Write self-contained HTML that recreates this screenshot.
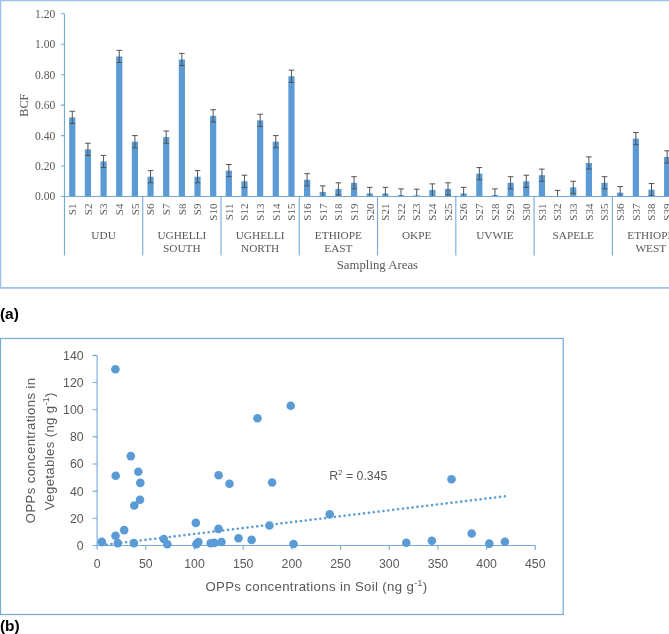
<!DOCTYPE html>
<html><head><meta charset="utf-8"><style>
html,body{margin:0;padding:0;background:#fff;width:669px;height:634px;overflow:hidden;}
svg{display:block;filter:blur(0.3px);}

</style></head><body>
<svg width="669" height="634" viewBox="0 0 669 634">
<rect x="0" y="0" width="669" height="634" fill="#fff"/>
<path d="M0.6,288 V0.6 H700" fill="none" stroke="#9FC3E8" stroke-width="1.4"/>
<path d="M0,287.9 H669" fill="none" stroke="#9FC3E8" stroke-width="1.6"/>
<rect x="69.18" y="117.33" width="6.2" height="79.17" fill="#5B9BD5"/>
<rect x="84.83" y="149.30" width="6.2" height="47.20" fill="#5B9BD5"/>
<rect x="100.49" y="161.48" width="6.2" height="35.02" fill="#5B9BD5"/>
<rect x="116.14" y="56.43" width="6.2" height="140.07" fill="#5B9BD5"/>
<rect x="131.80" y="141.69" width="6.2" height="54.81" fill="#5B9BD5"/>
<rect x="147.45" y="176.71" width="6.2" height="19.79" fill="#5B9BD5"/>
<rect x="163.11" y="137.12" width="6.2" height="59.38" fill="#5B9BD5"/>
<rect x="178.76" y="59.47" width="6.2" height="137.03" fill="#5B9BD5"/>
<rect x="194.42" y="176.71" width="6.2" height="19.79" fill="#5B9BD5"/>
<rect x="210.07" y="115.81" width="6.2" height="80.69" fill="#5B9BD5"/>
<rect x="225.73" y="170.62" width="6.2" height="25.88" fill="#5B9BD5"/>
<rect x="241.38" y="181.28" width="6.2" height="15.22" fill="#5B9BD5"/>
<rect x="257.04" y="120.38" width="6.2" height="76.12" fill="#5B9BD5"/>
<rect x="272.69" y="141.69" width="6.2" height="54.81" fill="#5B9BD5"/>
<rect x="288.35" y="76.22" width="6.2" height="120.28" fill="#5B9BD5"/>
<rect x="304.00" y="179.75" width="6.2" height="16.75" fill="#5B9BD5"/>
<rect x="319.66" y="191.93" width="6.2" height="4.57" fill="#5B9BD5"/>
<rect x="335.31" y="188.89" width="6.2" height="7.61" fill="#5B9BD5"/>
<rect x="350.97" y="182.80" width="6.2" height="13.70" fill="#5B9BD5"/>
<rect x="366.62" y="193.46" width="6.2" height="3.04" fill="#5B9BD5"/>
<rect x="382.28" y="193.46" width="6.2" height="3.04" fill="#5B9BD5"/>
<rect x="397.93" y="194.98" width="6.2" height="1.52" fill="#5B9BD5"/>
<rect x="413.59" y="195.28" width="6.2" height="1.22" fill="#5B9BD5"/>
<rect x="429.24" y="189.95" width="6.2" height="6.55" fill="#5B9BD5"/>
<rect x="444.90" y="188.89" width="6.2" height="7.61" fill="#5B9BD5"/>
<rect x="460.55" y="193.46" width="6.2" height="3.04" fill="#5B9BD5"/>
<rect x="476.21" y="173.66" width="6.2" height="22.84" fill="#5B9BD5"/>
<rect x="491.86" y="194.98" width="6.2" height="1.52" fill="#5B9BD5"/>
<rect x="507.52" y="182.80" width="6.2" height="13.70" fill="#5B9BD5"/>
<rect x="523.17" y="181.28" width="6.2" height="15.22" fill="#5B9BD5"/>
<rect x="538.83" y="175.19" width="6.2" height="21.31" fill="#5B9BD5"/>
<rect x="554.48" y="196.50" width="6.2" height="0.00" fill="#5B9BD5"/>
<rect x="570.14" y="187.37" width="6.2" height="9.13" fill="#5B9BD5"/>
<rect x="585.79" y="163.00" width="6.2" height="33.50" fill="#5B9BD5"/>
<rect x="601.45" y="182.80" width="6.2" height="13.70" fill="#5B9BD5"/>
<rect x="617.10" y="192.69" width="6.2" height="3.81" fill="#5B9BD5"/>
<rect x="632.76" y="138.64" width="6.2" height="57.86" fill="#5B9BD5"/>
<rect x="648.41" y="189.65" width="6.2" height="6.85" fill="#5B9BD5"/>
<rect x="664.07" y="156.91" width="6.2" height="39.59" fill="#5B9BD5"/>
<rect x="679.72" y="166.05" width="6.2" height="30.45" fill="#5B9BD5"/>
<path d="M72.28,111.24 V123.42 M69.48,111.24 H75.08 M69.48,123.42 H75.08" stroke="#525252" stroke-width="1" fill="none"/>
<path d="M87.93,143.21 V155.39 M85.13,143.21 H90.73 M85.13,155.39 H90.73" stroke="#525252" stroke-width="1" fill="none"/>
<path d="M103.59,155.39 V167.57 M100.79,155.39 H106.39 M100.79,167.57 H106.39" stroke="#525252" stroke-width="1" fill="none"/>
<path d="M119.24,50.34 V62.52 M116.44,50.34 H122.04 M116.44,62.52 H122.04" stroke="#525252" stroke-width="1" fill="none"/>
<path d="M134.90,135.60 V147.78 M132.10,135.60 H137.70 M132.10,147.78 H137.70" stroke="#525252" stroke-width="1" fill="none"/>
<path d="M150.55,170.62 V182.80 M147.75,170.62 H153.35 M147.75,182.80 H153.35" stroke="#525252" stroke-width="1" fill="none"/>
<path d="M166.21,131.03 V143.21 M163.41,131.03 H169.01 M163.41,143.21 H169.01" stroke="#525252" stroke-width="1" fill="none"/>
<path d="M181.86,53.38 V65.56 M179.06,53.38 H184.66 M179.06,65.56 H184.66" stroke="#525252" stroke-width="1" fill="none"/>
<path d="M197.52,170.62 V182.80 M194.72,170.62 H200.32 M194.72,182.80 H200.32" stroke="#525252" stroke-width="1" fill="none"/>
<path d="M213.17,109.72 V121.90 M210.37,109.72 H215.97 M210.37,121.90 H215.97" stroke="#525252" stroke-width="1" fill="none"/>
<path d="M228.83,164.53 V176.71 M226.03,164.53 H231.63 M226.03,176.71 H231.63" stroke="#525252" stroke-width="1" fill="none"/>
<path d="M244.48,175.19 V187.37 M241.68,175.19 H247.28 M241.68,187.37 H247.28" stroke="#525252" stroke-width="1" fill="none"/>
<path d="M260.14,114.28 V126.47 M257.34,114.28 H262.94 M257.34,126.47 H262.94" stroke="#525252" stroke-width="1" fill="none"/>
<path d="M275.79,135.60 V147.78 M272.99,135.60 H278.59 M272.99,147.78 H278.59" stroke="#525252" stroke-width="1" fill="none"/>
<path d="M291.45,70.13 V82.31 M288.65,70.13 H294.25 M288.65,82.31 H294.25" stroke="#525252" stroke-width="1" fill="none"/>
<path d="M307.10,173.66 V185.84 M304.30,173.66 H309.90 M304.30,185.84 H309.90" stroke="#525252" stroke-width="1" fill="none"/>
<path d="M322.76,185.84 V196.50 M319.96,185.84 H325.56" stroke="#525252" stroke-width="1" fill="none"/>
<path d="M338.41,182.80 V194.98 M335.61,182.80 H341.21 M335.61,194.98 H341.21" stroke="#525252" stroke-width="1" fill="none"/>
<path d="M354.07,176.71 V188.89 M351.27,176.71 H356.87 M351.27,188.89 H356.87" stroke="#525252" stroke-width="1" fill="none"/>
<path d="M369.72,187.37 V196.50 M366.92,187.37 H372.52" stroke="#525252" stroke-width="1" fill="none"/>
<path d="M385.38,187.37 V196.50 M382.58,187.37 H388.18" stroke="#525252" stroke-width="1" fill="none"/>
<path d="M401.03,188.89 V196.50 M398.23,188.89 H403.83" stroke="#525252" stroke-width="1" fill="none"/>
<path d="M416.69,189.19 V196.50 M413.89,189.19 H419.49" stroke="#525252" stroke-width="1" fill="none"/>
<path d="M432.34,183.86 V196.04 M429.54,183.86 H435.14" stroke="#525252" stroke-width="1" fill="none"/>
<path d="M448.00,182.80 V194.98 M445.20,182.80 H450.80 M445.20,194.98 H450.80" stroke="#525252" stroke-width="1" fill="none"/>
<path d="M463.65,187.37 V196.50 M460.85,187.37 H466.45" stroke="#525252" stroke-width="1" fill="none"/>
<path d="M479.31,167.57 V179.75 M476.51,167.57 H482.11 M476.51,179.75 H482.11" stroke="#525252" stroke-width="1" fill="none"/>
<path d="M494.96,188.89 V196.50 M492.16,188.89 H497.76" stroke="#525252" stroke-width="1" fill="none"/>
<path d="M510.62,176.71 V188.89 M507.82,176.71 H513.42 M507.82,188.89 H513.42" stroke="#525252" stroke-width="1" fill="none"/>
<path d="M526.27,175.19 V187.37 M523.47,175.19 H529.07 M523.47,187.37 H529.07" stroke="#525252" stroke-width="1" fill="none"/>
<path d="M541.93,169.09 V181.28 M539.13,169.09 H544.73 M539.13,181.28 H544.73" stroke="#525252" stroke-width="1" fill="none"/>
<path d="M557.58,190.41 V196.50 M554.78,190.41 H560.38" stroke="#525252" stroke-width="1" fill="none"/>
<path d="M573.24,181.28 V193.46 M570.44,181.28 H576.04 M570.44,193.46 H576.04" stroke="#525252" stroke-width="1" fill="none"/>
<path d="M588.89,156.91 V169.09 M586.09,156.91 H591.69 M586.09,169.09 H591.69" stroke="#525252" stroke-width="1" fill="none"/>
<path d="M604.55,176.71 V188.89 M601.75,176.71 H607.35 M601.75,188.89 H607.35" stroke="#525252" stroke-width="1" fill="none"/>
<path d="M620.20,186.60 V196.50 M617.40,186.60 H623.00" stroke="#525252" stroke-width="1" fill="none"/>
<path d="M635.86,132.56 V144.74 M633.06,132.56 H638.66 M633.06,144.74 H638.66" stroke="#525252" stroke-width="1" fill="none"/>
<path d="M651.51,183.56 V195.74 M648.71,183.56 H654.31 M648.71,195.74 H654.31" stroke="#525252" stroke-width="1" fill="none"/>
<path d="M667.17,150.82 V163.00 M664.37,150.82 H669.97 M664.37,163.00 H669.97" stroke="#525252" stroke-width="1" fill="none"/>
<path d="M682.82,159.96 V172.14 M680.02,159.96 H685.62 M680.02,172.14 H685.62" stroke="#525252" stroke-width="1" fill="none"/>
<path d="M64.45,13.8 V196.5 H700" stroke="#74A9DD" stroke-width="1.1" fill="none"/>
<path d="M61,196.50 H64.45 M61,166.05 H64.45 M61,135.60 H64.45 M61,105.15 H64.45 M61,74.70 H64.45 M61,44.25 H64.45 M61,13.80 H64.45 " stroke="#74A9DD" stroke-width="1.1" fill="none"/>
<path d="M64.45,196.5 V255.5 M142.72,196.5 V255.5 M221.00,196.5 V255.5 M299.27,196.5 V255.5 M377.55,196.5 V255.5 M455.82,196.5 V255.5 M534.10,196.5 V255.5 M612.38,196.5 V255.5 M690.65,196.5 V255.5 " stroke="#74A9DD" stroke-width="1.1" fill="none"/>
<g font-family="Liberation Serif" font-size="11.6" fill="#595959" text-anchor="end">
<text x="55.3" y="200.40">0.00</text>
<text x="55.3" y="169.95">0.20</text>
<text x="55.3" y="139.50">0.40</text>
<text x="55.3" y="109.05">0.60</text>
<text x="55.3" y="78.60">0.80</text>
<text x="55.3" y="48.15">1.00</text>
<text x="55.3" y="17.70">1.20</text>
</g>
<text transform="translate(28.3,105.2) rotate(-90)" font-family="Liberation Serif" font-size="12.2" fill="#595959" text-anchor="middle">BCF</text>
<g font-family="Liberation Serif" font-size="11" fill="#595959" text-anchor="end">
<text transform="translate(76.08,203.5) rotate(-90)">S1</text>
<text transform="translate(91.73,203.5) rotate(-90)">S2</text>
<text transform="translate(107.39,203.5) rotate(-90)">S3</text>
<text transform="translate(123.04,203.5) rotate(-90)">S4</text>
<text transform="translate(138.70,203.5) rotate(-90)">S5</text>
<text transform="translate(154.35,203.5) rotate(-90)">S6</text>
<text transform="translate(170.01,203.5) rotate(-90)">S7</text>
<text transform="translate(185.66,203.5) rotate(-90)">S8</text>
<text transform="translate(201.32,203.5) rotate(-90)">S9</text>
<text transform="translate(216.97,203.5) rotate(-90)">S10</text>
<text transform="translate(232.63,203.5) rotate(-90)">S11</text>
<text transform="translate(248.28,203.5) rotate(-90)">S12</text>
<text transform="translate(263.94,203.5) rotate(-90)">S13</text>
<text transform="translate(279.59,203.5) rotate(-90)">S14</text>
<text transform="translate(295.25,203.5) rotate(-90)">S15</text>
<text transform="translate(310.90,203.5) rotate(-90)">S16</text>
<text transform="translate(326.56,203.5) rotate(-90)">S17</text>
<text transform="translate(342.21,203.5) rotate(-90)">S18</text>
<text transform="translate(357.87,203.5) rotate(-90)">S19</text>
<text transform="translate(373.52,203.5) rotate(-90)">S20</text>
<text transform="translate(389.18,203.5) rotate(-90)">S21</text>
<text transform="translate(404.83,203.5) rotate(-90)">S22</text>
<text transform="translate(420.49,203.5) rotate(-90)">S23</text>
<text transform="translate(436.14,203.5) rotate(-90)">S24</text>
<text transform="translate(451.80,203.5) rotate(-90)">S25</text>
<text transform="translate(467.45,203.5) rotate(-90)">S26</text>
<text transform="translate(483.11,203.5) rotate(-90)">S27</text>
<text transform="translate(498.76,203.5) rotate(-90)">S28</text>
<text transform="translate(514.42,203.5) rotate(-90)">S29</text>
<text transform="translate(530.07,203.5) rotate(-90)">S30</text>
<text transform="translate(545.73,203.5) rotate(-90)">S31</text>
<text transform="translate(561.38,203.5) rotate(-90)">S32</text>
<text transform="translate(577.04,203.5) rotate(-90)">S33</text>
<text transform="translate(592.69,203.5) rotate(-90)">S34</text>
<text transform="translate(608.35,203.5) rotate(-90)">S35</text>
<text transform="translate(624.00,203.5) rotate(-90)">S36</text>
<text transform="translate(639.66,203.5) rotate(-90)">S37</text>
<text transform="translate(655.31,203.5) rotate(-90)">S38</text>
<text transform="translate(670.97,203.5) rotate(-90)">S39</text>
<text transform="translate(686.62,203.5) rotate(-90)">S40</text>
</g>
<g font-family="Liberation Serif" font-size="11.3" fill="#595959" text-anchor="middle">
<text x="103.59" y="239.2">UDU</text>
<text x="181.86" y="239.2">UGHELLI</text>
<text x="181.86" y="252.1">SOUTH</text>
<text x="260.14" y="239.2">UGHELLI</text>
<text x="260.14" y="252.1">NORTH</text>
<text x="338.41" y="239.2">ETHIOPE</text>
<text x="338.41" y="252.1">EAST</text>
<text x="416.69" y="239.2">OKPE</text>
<text x="494.96" y="239.2">UVWIE</text>
<text x="573.24" y="239.2">SAPELE</text>
<text x="650.81" y="239.2">ETHIOPE</text>
<text x="650.81" y="252.1">WEST</text>
</g>
<text x="377.4" y="269.3" font-family="Liberation Serif" font-size="12.8" fill="#595959" text-anchor="middle">Sampling Areas</text>
<text y="318.7" font-family="Liberation Sans" font-weight="bold" font-size="15.5" fill="#000"><tspan x="0">(</tspan><tspan x="5.1">a</tspan><tspan x="13.8">)</tspan></text>
<rect x="0.5" y="338.45" width="562.7" height="276.05" fill="none" stroke="#76A9DD" stroke-width="1.2"/>
<path d="M97.1,355.4 V545.45 H535.3" stroke="#74A9DD" stroke-width="1.1" fill="none"/>
<path d="M92.6,545.45 H97.1 M92.6,518.30 H97.1 M92.6,491.15 H97.1 M92.6,464.00 H97.1 M92.6,436.85 H97.1 M92.6,409.70 H97.1 M92.6,382.55 H97.1 M92.6,355.40 H97.1 M97.10,545.45 V549.8 M145.79,545.45 V549.8 M194.48,545.45 V549.8 M243.17,545.45 V549.8 M291.86,545.45 V549.8 M340.55,545.45 V549.8 M389.24,545.45 V549.8 M437.93,545.45 V549.8 M486.62,545.45 V549.8 M535.31,545.45 V549.8 " stroke="#74A9DD" stroke-width="1.1" fill="none"/>
<path d="M101.8,545.2 L504.9,496.3" stroke="#5B9BD5" stroke-width="2.6" stroke-dasharray="0.01 4.882" stroke-linecap="round" fill="none"/>
<circle cx="115.4" cy="369.3" r="4.3" fill="#5B9BD5"/>
<circle cx="130.8" cy="456.1" r="4.3" fill="#5B9BD5"/>
<circle cx="115.7" cy="475.8" r="4.3" fill="#5B9BD5"/>
<circle cx="138.3" cy="471.8" r="4.3" fill="#5B9BD5"/>
<circle cx="140.3" cy="482.9" r="4.3" fill="#5B9BD5"/>
<circle cx="140.0" cy="499.7" r="4.3" fill="#5B9BD5"/>
<circle cx="134.3" cy="505.5" r="4.3" fill="#5B9BD5"/>
<circle cx="124.2" cy="530.1" r="4.3" fill="#5B9BD5"/>
<circle cx="115.5" cy="535.7" r="4.3" fill="#5B9BD5"/>
<circle cx="101.8" cy="541.9" r="4.3" fill="#5B9BD5"/>
<circle cx="117.8" cy="543.1" r="4.3" fill="#5B9BD5"/>
<circle cx="133.9" cy="543.1" r="4.3" fill="#5B9BD5"/>
<circle cx="163.8" cy="539.0" r="4.3" fill="#5B9BD5"/>
<circle cx="167.3" cy="544.2" r="4.3" fill="#5B9BD5"/>
<circle cx="290.7" cy="405.7" r="4.3" fill="#5B9BD5"/>
<circle cx="257.5" cy="418.3" r="4.3" fill="#5B9BD5"/>
<circle cx="218.6" cy="475.3" r="4.3" fill="#5B9BD5"/>
<circle cx="229.5" cy="483.7" r="4.3" fill="#5B9BD5"/>
<circle cx="272.1" cy="482.5" r="4.3" fill="#5B9BD5"/>
<circle cx="195.8" cy="522.9" r="4.3" fill="#5B9BD5"/>
<circle cx="218.5" cy="528.9" r="4.3" fill="#5B9BD5"/>
<circle cx="269.4" cy="525.5" r="4.3" fill="#5B9BD5"/>
<circle cx="198.4" cy="542.0" r="4.3" fill="#5B9BD5"/>
<circle cx="196.4" cy="544.1" r="4.3" fill="#5B9BD5"/>
<circle cx="210.7" cy="543.2" r="4.3" fill="#5B9BD5"/>
<circle cx="214.3" cy="542.9" r="4.3" fill="#5B9BD5"/>
<circle cx="221.5" cy="542.0" r="4.3" fill="#5B9BD5"/>
<circle cx="238.5" cy="538.3" r="4.3" fill="#5B9BD5"/>
<circle cx="251.6" cy="539.9" r="4.3" fill="#5B9BD5"/>
<circle cx="293.5" cy="544.0" r="4.3" fill="#5B9BD5"/>
<circle cx="329.7" cy="514.2" r="4.3" fill="#5B9BD5"/>
<circle cx="406.3" cy="542.8" r="4.3" fill="#5B9BD5"/>
<circle cx="431.9" cy="540.7" r="4.3" fill="#5B9BD5"/>
<circle cx="451.5" cy="479.2" r="4.3" fill="#5B9BD5"/>
<circle cx="471.7" cy="533.5" r="4.3" fill="#5B9BD5"/>
<circle cx="489.3" cy="543.6" r="4.3" fill="#5B9BD5"/>
<circle cx="504.9" cy="541.8" r="4.3" fill="#5B9BD5"/>
<g font-family="Liberation Sans" font-size="12.3" fill="#595959">
<text x="83.6" y="549.85" text-anchor="end">0</text>
<text x="83.6" y="522.70" text-anchor="end">20</text>
<text x="83.6" y="495.55" text-anchor="end">40</text>
<text x="83.6" y="468.40" text-anchor="end">60</text>
<text x="83.6" y="441.25" text-anchor="end">80</text>
<text x="83.6" y="414.10" text-anchor="end">100</text>
<text x="83.6" y="386.95" text-anchor="end">120</text>
<text x="83.6" y="359.80" text-anchor="end">140</text>
<text x="97.10" y="567.8" text-anchor="middle">0</text>
<text x="145.79" y="567.8" text-anchor="middle">50</text>
<text x="194.48" y="567.8" text-anchor="middle">100</text>
<text x="243.17" y="567.8" text-anchor="middle">150</text>
<text x="291.86" y="567.8" text-anchor="middle">200</text>
<text x="340.55" y="567.8" text-anchor="middle">250</text>
<text x="389.24" y="567.8" text-anchor="middle">300</text>
<text x="437.93" y="567.8" text-anchor="middle">350</text>
<text x="486.62" y="567.8" text-anchor="middle">400</text>
<text x="535.31" y="567.8" text-anchor="middle">450</text>
</g>
<text x="329.2" y="479.7" font-family="Liberation Sans" font-size="12.3" fill="#595959">R<tspan font-size="8" dy="-4.5">2</tspan><tspan dy="4.5"> = 0.345</tspan></text>
<text x="316.4" y="590.5" font-family="Liberation Sans" font-size="13.2" letter-spacing="0.35" fill="#595959" text-anchor="middle">OPPs concentrations in Soil (ng g<tspan font-size="8.8" dy="-5">-1</tspan><tspan dy="5">)</tspan></text>
<g font-family="Liberation Sans" font-size="13.2" letter-spacing="0.35" fill="#595959" text-anchor="middle">
<text transform="translate(34.8,450.4) rotate(-90)">OPPs concentrations in</text>
<text transform="translate(53.8,451.2) rotate(-90)">Vegetables (ng g<tspan font-size="8.8" dy="-5">-1</tspan><tspan dy="5">)</tspan></text>
</g>
<text y="630.6" font-family="Liberation Sans" font-weight="bold" font-size="15.5" fill="#000"><tspan x="0">(</tspan><tspan x="5">b</tspan><tspan x="14.5">)</tspan></text>
</svg>
</body></html>
